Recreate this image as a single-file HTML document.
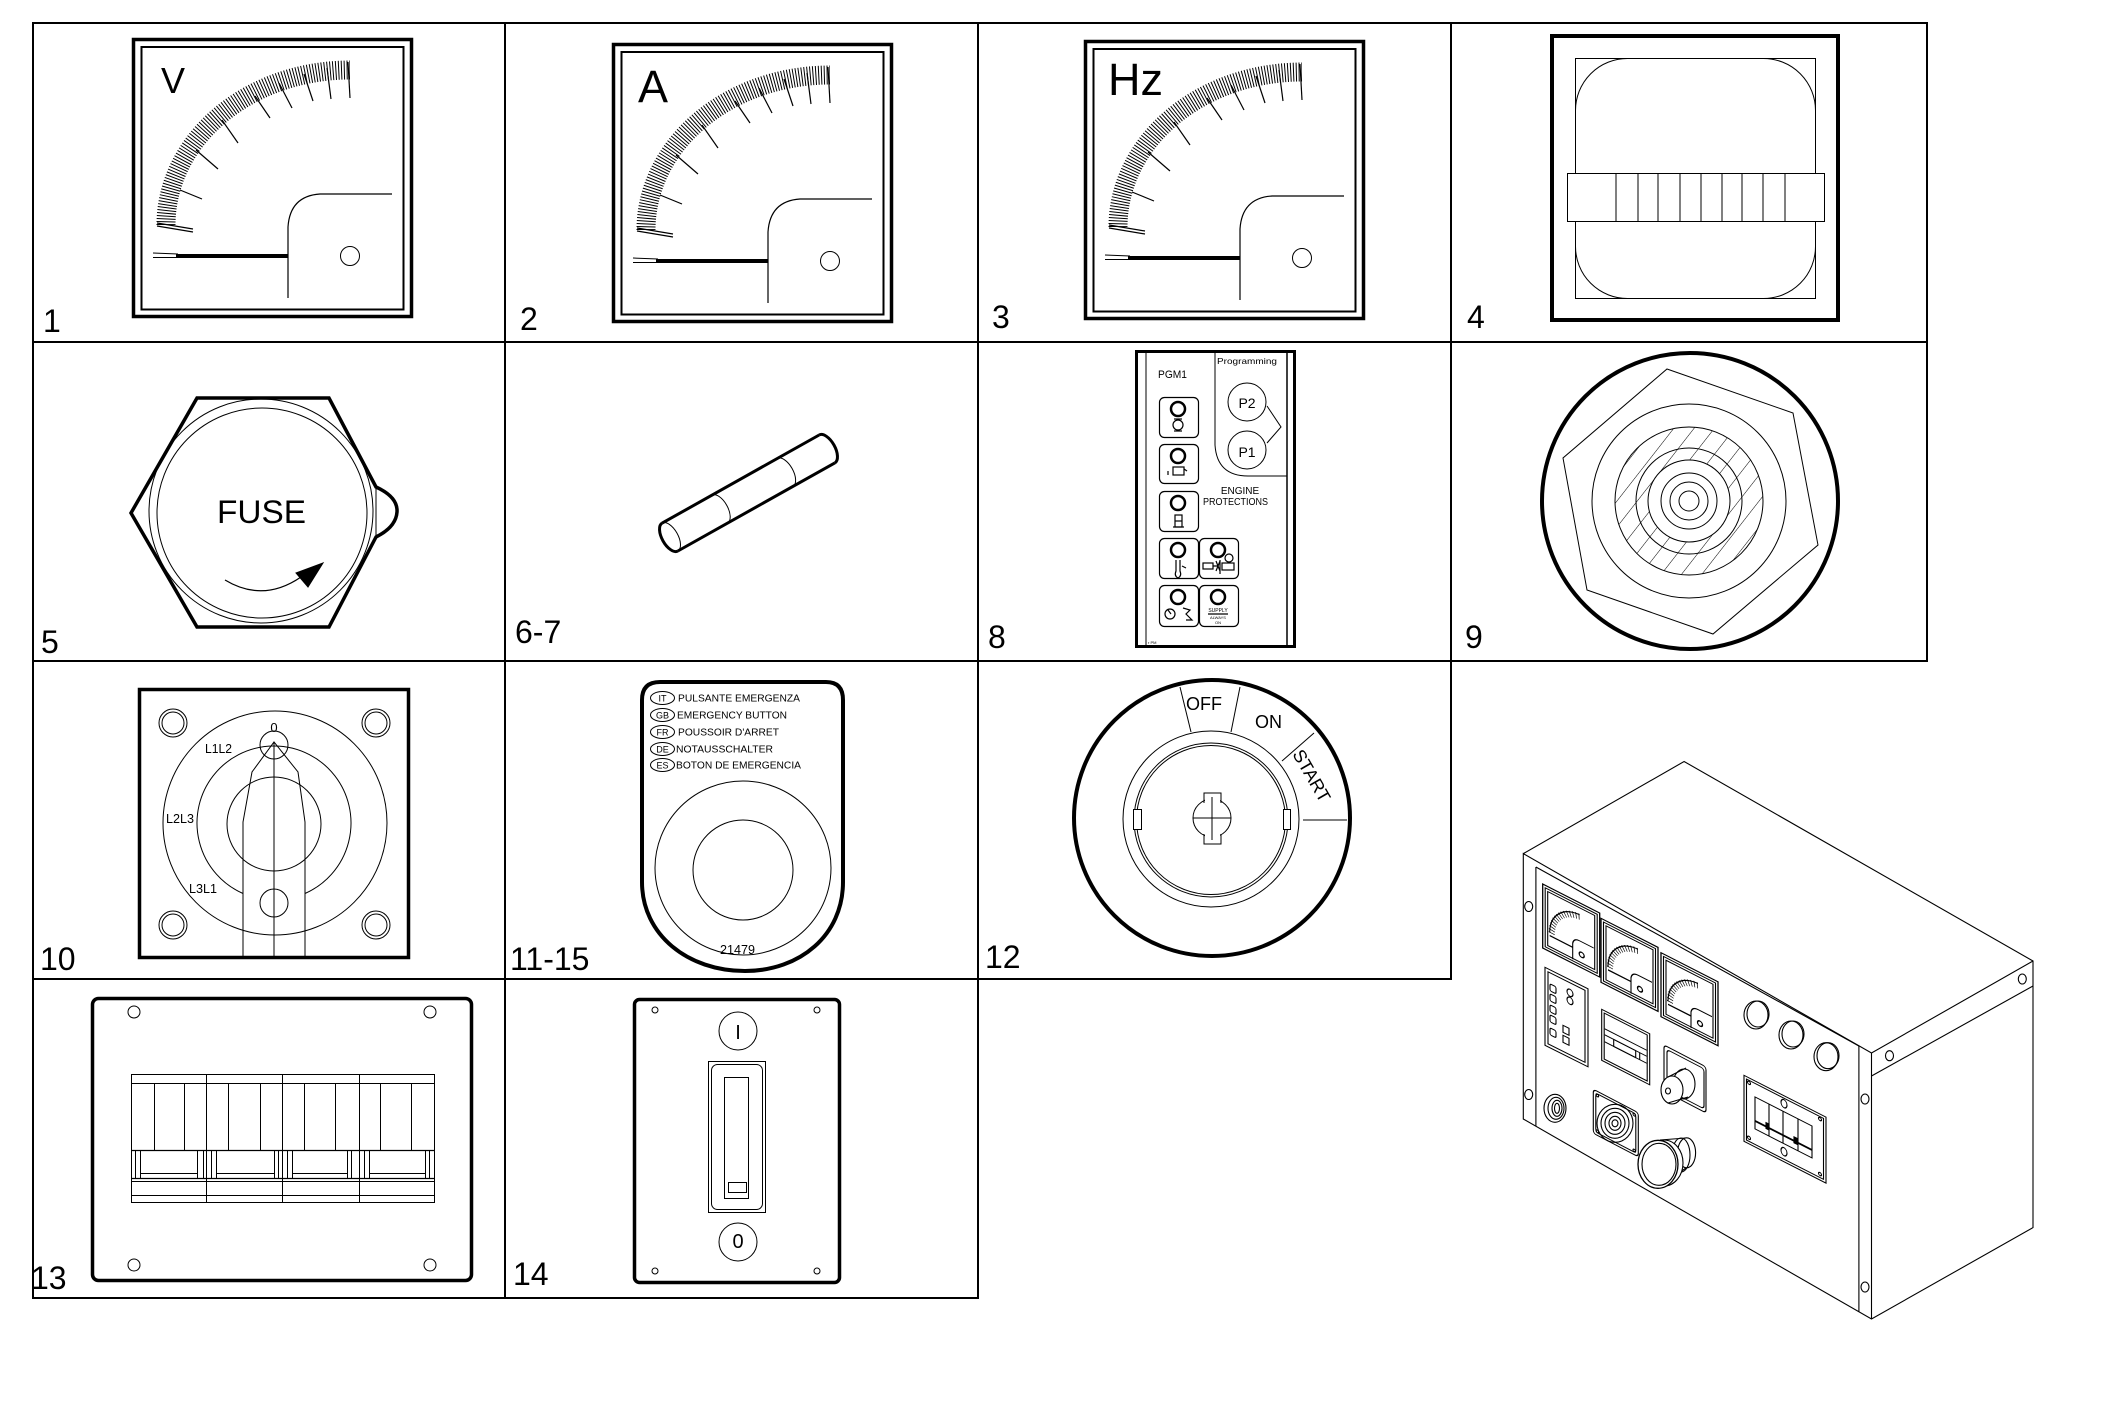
<!DOCTYPE html>
<html><head><meta charset="utf-8"><style>
html,body{margin:0;padding:0;background:#fff;}
svg{display:block;}
text{font-family:"Liberation Sans",Arial,sans-serif;fill:#000;stroke:none;}
</style></head><body>
<svg width="2126" height="1418" viewBox="0 0 2126 1418" xmlns="http://www.w3.org/2000/svg" fill="none" stroke="#000" stroke-width="1">
<defs>
 <g id="meter">
  <rect x="133.5" y="39.5" width="278" height="277" stroke-width="3.5"/>
  <rect x="141.5" y="47" width="262" height="262.5" stroke-width="2"/>
  <path d="M166,225 A184,155 0 0 1 350,70" stroke-width="19" stroke-dasharray="1 1.8"/>
  <g stroke-width="1.2">
   <line x1="157" y1="223" x2="193" y2="229"/>
   <line x1="157" y1="226" x2="193" y2="232"/>
   <line x1="180" y1="190" x2="202" y2="199"/>
   <line x1="196" y1="150" x2="218" y2="169"/>
   <line x1="222" y1="120" x2="238" y2="143"/>
   <line x1="255" y1="96" x2="270" y2="118"/>
   <line x1="279" y1="83" x2="292" y2="108"/>
   <line x1="304" y1="74" x2="313" y2="101"/>
   <line x1="327" y1="68" x2="331" y2="99"/>
   <line x1="348" y1="62" x2="350" y2="98"/>
  </g>
  <line x1="176" y1="256" x2="288" y2="256" stroke-width="4"/>
  <line x1="153" y1="253" x2="178" y2="254"/>
  <line x1="153" y1="257.5" x2="178" y2="257.5"/>
  <path d="M288,298 L288,227 Q290,196 320,194 L392,194" stroke-width="1.2"/>
  <circle cx="350" cy="256" r="9.5"/>
 </g>
 <g id="mm">
  <rect x="0" y="0" width="57" height="64" stroke-width="1.3"/>
  <rect x="2.5" y="2.5" width="52" height="59"/>
  <rect x="5" y="5" width="47" height="54"/>
  <path d="M9,45 A29,31 0 0 1 37,14" stroke-width="6" stroke-dasharray="0.8 2.2"/>
  <path d="M7,45 A31,33 0 0 1 37,12"/>
  <line x1="7" y1="48" x2="30" y2="48" stroke-width="1.4"/>
  <path d="M30,60 L30,44 Q31,38 37,38 L51,38"/>
  <circle cx="39" cy="51" r="2.5" stroke-width="1.3"/>
 </g>
 <pattern id="hatch" patternUnits="userSpaceOnUse" width="16" height="16" patternTransform="rotate(38 1689 501)">
  <line x1="0" y1="-1" x2="0" y2="17" stroke="#000" stroke-width="1"/>
 </pattern>
</defs>

<!-- GRID -->
<g stroke-width="2">
 <line x1="33" y1="23" x2="1928" y2="23"/>
 <line x1="33" y1="342" x2="1928" y2="342"/>
 <line x1="33" y1="661" x2="1928" y2="661"/>
 <line x1="33" y1="979" x2="1452" y2="979"/>
 <line x1="33" y1="1298" x2="979" y2="1298"/>
 <line x1="33" y1="22" x2="33" y2="1299"/>
 <line x1="505" y1="22" x2="505" y2="1299"/>
 <line x1="978" y1="22" x2="978" y2="1299"/>
 <line x1="1451" y1="22" x2="1451" y2="980"/>
 <line x1="1927" y1="22" x2="1927" y2="662"/>
</g>

<!-- LABELS -->
<g font-size="32">
 <text x="43" y="332">1</text>
 <text x="520" y="330">2</text>
 <text x="992" y="328">3</text>
 <text x="1467" y="328">4</text>
 <text x="41" y="653">5</text>
 <text x="515" y="643">6-7</text>
 <text x="988" y="648">8</text>
 <text x="1465" y="648">9</text>
 <text x="40" y="970">10</text>
 <text x="510" y="970">11-15</text>
 <text x="985" y="968">12</text>
 <text x="31" y="1289">13</text>
 <text x="513" y="1285">14</text>
</g>

<!-- METERS 1-3 -->
<use href="#meter"/>
<use href="#meter" transform="translate(480,5)"/>
<use href="#meter" transform="translate(952,2)"/>
<text x="161" y="93" font-size="36">V</text>
<text x="638" y="102" font-size="45">A</text>
<text x="1108" y="95" font-size="45" textLength="55" lengthAdjust="spacingAndGlyphs">Hz</text>

<!-- CELL 4 -->
<rect x="1552" y="36" width="286" height="284" stroke-width="4"/>
<rect x="1575.5" y="58.5" width="240" height="240"/>
<rect x="1575.5" y="58.5" width="240" height="240" rx="52"/>
<rect x="1567.5" y="173.5" width="257" height="48" fill="#fff"/>
<g>
 <line x1="1616" y1="173.5" x2="1616" y2="221.5"/>
 <line x1="1638" y1="173.5" x2="1638" y2="221.5"/>
 <line x1="1658" y1="173.5" x2="1658" y2="221.5"/>
 <line x1="1680" y1="173.5" x2="1680" y2="221.5"/>
 <line x1="1701" y1="173.5" x2="1701" y2="221.5"/>
 <line x1="1722" y1="173.5" x2="1722" y2="221.5"/>
 <line x1="1742" y1="173.5" x2="1742" y2="221.5"/>
 <line x1="1763" y1="173.5" x2="1763" y2="221.5"/>
 <line x1="1785" y1="173.5" x2="1785" y2="221.5"/>
</g>

<!-- CELL 5 FUSE -->
<path d="M197,398 L329,398 L376,487 Q398,497 397,512 Q396,527 376,537 L329,627 L197,627 L131,513 Z" stroke-width="3.5"/>
<line x1="376" y1="487" x2="376" y2="537"/>
<circle cx="261" cy="511" r="112"/>
<circle cx="262" cy="513" r="105"/>
<text x="217" y="523" font-size="32" textLength="89" lengthAdjust="spacingAndGlyphs">FUSE</text>
<path d="M225,580 Q263,603 301,577" stroke-width="1.2"/>
<polygon points="323,563 296,573 308,587" fill="#000"/>

<!-- CELL 6-7 -->
<g transform="translate(748.5,493) rotate(-29.3)">
 <line x1="-90" y1="-16" x2="90" y2="-16" stroke-width="3"/>
 <line x1="-90" y1="16" x2="90" y2="16" stroke-width="3"/>
 <path d="M-90,-16 A8,16 0 0 0 -90,16" stroke-width="3"/>
 <path d="M-90,-16 A8,16 0 0 1 -90,16"/>
 <path d="M90,-16 A8,16 0 0 1 90,16" stroke-width="3"/>
 <path d="M-33,-16 A8,16 0 0 1 -33,16"/>
 <path d="M42,-16 A8,16 0 0 1 42,16"/>
</g>

<!-- CELL 8 -->
<rect x="1136.5" y="351.5" width="158" height="295" stroke-width="3"/>
<line x1="1146" y1="351" x2="1146" y2="647"/>
<line x1="1287" y1="351" x2="1287" y2="647" stroke-width="1.5"/>
<path d="M1215,351 L1215,445 Q1217,476 1248,476 L1287,476"/>
<text x="1217" y="364" font-size="8.5" textLength="60" lengthAdjust="spacingAndGlyphs">Programming</text>
<text x="1158" y="378" font-size="11" textLength="29" lengthAdjust="spacingAndGlyphs">PGM1</text>
<circle cx="1247" cy="402" r="19"/>
<text x="1247" y="408" font-size="14" text-anchor="middle">P2</text>
<circle cx="1247" cy="450" r="19"/>
<text x="1247" y="457" font-size="14" text-anchor="middle">P1</text>
<polyline points="1267,406 1281,427 1267,443"/>
<text x="1240" y="494" font-size="10" text-anchor="middle">ENGINE</text>
<text x="1203" y="505" font-size="10" textLength="65" lengthAdjust="spacingAndGlyphs">PROTECTIONS</text>
<g stroke-width="1.2">
 <rect x="1159.5" y="397.5" width="39" height="40" rx="5"/>
 <rect x="1159.5" y="444.5" width="39" height="39" rx="5"/>
 <rect x="1159.5" y="491.5" width="39" height="40" rx="5"/>
 <rect x="1159.5" y="538.5" width="39" height="40" rx="5"/>
 <rect x="1199.5" y="538.5" width="39" height="40" rx="5"/>
 <rect x="1159.5" y="585.5" width="39" height="41" rx="5"/>
 <rect x="1199.5" y="585.5" width="39" height="41" rx="5"/>
</g>
<g stroke-width="2.5">
 <circle cx="1178" cy="409" r="7"/>
 <circle cx="1178" cy="456" r="7"/>
 <circle cx="1178" cy="503" r="7"/>
 <circle cx="1178" cy="550" r="7"/>
 <circle cx="1218" cy="550" r="7"/>
 <circle cx="1178" cy="597" r="7"/>
 <circle cx="1218" cy="597" r="7"/>
</g>
<g stroke-width="1.2">
 <circle cx="1178" cy="425" r="5"/><line x1="1174" y1="431" x2="1182" y2="431"/><line x1="1174" y1="419" x2="1182" y2="419"/>
 <rect x="1173" y="467" width="11" height="8"/><line x1="1168" y1="471" x2="1168" y2="475"/><line x1="1184" y1="469" x2="1187" y2="471"/>
 <rect x="1175" y="515" width="7" height="12"/><line x1="1175" y1="521" x2="1182" y2="521"/><line x1="1173" y1="527" x2="1184" y2="527"/>
 <path d="M1176,560 L1176,571 Q1174,576 1178,578 Q1182,576 1180,571 L1180,560 M1182,566 L1186,568"/>
 <rect x="1203" y="563" width="10" height="6"/><path d="M1213,566 L1218,566 M1216,561 L1220,571 M1220,561 L1216,571 M1220,560 L1220,574"/>
 <circle cx="1229" cy="558" r="4"/><rect x="1222" y="563" width="12" height="7"/>
 <circle cx="1170" cy="614" r="5"/><path d="M1168,610 L1171,614 M1183,608 L1190,610 L1186,614 L1192,620 L1186,620"/>
</g>
<text x="1218" y="612" font-size="5" text-anchor="middle">SUPPLY</text>
<line x1="1208" y1="614" x2="1228" y2="614" stroke-width="1.2"/>
<text x="1218" y="619" font-size="4" text-anchor="middle">ALWAYS</text>
<text x="1218" y="624" font-size="4" text-anchor="middle">ON</text>
<text x="1148" y="644" font-size="4">r  PM</text>

<!-- CELL 9 -->
<circle cx="1690" cy="501" r="148" stroke-width="4"/>
<polygon points="1667,369 1793,413 1818,545 1713,634 1587,590 1563,458"/>
<path d="M1615,501 a74,74 0 1 0 148,0 a74,74 0 1 0 -148,0 Z M1648,501 a41,41 0 1 0 82,0 a41,41 0 1 0 -82,0 Z" fill="url(#hatch)" fill-rule="evenodd" stroke="none"/>
<circle cx="1689" cy="501" r="97"/>
<circle cx="1689" cy="501" r="74"/>
<circle cx="1689" cy="501" r="53"/>
<circle cx="1689" cy="501" r="41"/>
<circle cx="1689" cy="501" r="28"/>
<circle cx="1689" cy="501" r="19"/>
<circle cx="1689" cy="501" r="10"/>

<!-- CELL 10 -->
<rect x="139.5" y="689.5" width="269" height="268" stroke-width="3.5"/>
<g>
 <circle cx="173" cy="723" r="14"/><circle cx="173" cy="723" r="11"/>
 <circle cx="376" cy="723" r="14"/><circle cx="376" cy="723" r="11"/>
 <circle cx="173" cy="925" r="14"/><circle cx="173" cy="925" r="11"/>
 <circle cx="376" cy="925" r="14"/><circle cx="376" cy="925" r="11"/>
</g>
<circle cx="275" cy="823" r="112"/>
<path d="M243,893.5 A77,77 0 1 1 305,893.5"/>
<circle cx="274" cy="824" r="47"/>
<circle cx="274" cy="745" r="14"/>
<circle cx="274" cy="903" r="14"/>
<polyline points="243,959 243,822 252,772 274,742 298,772 305,822 305,959"/>
<line x1="274" y1="742" x2="274" y2="959"/>
<text x="274" y="732" font-size="13" text-anchor="middle">0</text>
<text x="205" y="753" font-size="13" textLength="27" lengthAdjust="spacingAndGlyphs">L1L2</text>
<text x="166" y="823" font-size="13" textLength="28" lengthAdjust="spacingAndGlyphs">L2L3</text>
<text x="189" y="893" font-size="13" textLength="28" lengthAdjust="spacingAndGlyphs">L3L1</text>

<!-- CELL 11-15 -->
<path d="M642,700 Q642,682 660,682 L826,682 Q843,682 843,700 L843,882 C843,935 800,971 745,971 C688,971 642,935 642,882 Z" stroke-width="4"/>
<g>
 <ellipse cx="662.5" cy="698" rx="12" ry="6.5"/>
 <ellipse cx="662.5" cy="715" rx="12" ry="6.5"/>
 <ellipse cx="662.5" cy="732" rx="12" ry="6.5"/>
 <ellipse cx="662.5" cy="749" rx="12" ry="6.5"/>
 <ellipse cx="662.5" cy="765" rx="12" ry="6.5"/>
</g>
<g font-size="9" text-anchor="middle">
 <text x="662.5" y="701.5">IT</text>
 <text x="662.5" y="718.5">GB</text>
 <text x="662.5" y="735.5">FR</text>
 <text x="662.5" y="752.5">DE</text>
 <text x="662.5" y="768.5">ES</text>
</g>
<g font-size="10">
 <text x="678" y="701.5" textLength="122" lengthAdjust="spacingAndGlyphs">PULSANTE EMERGENZA</text>
 <text x="677" y="718.5" textLength="110" lengthAdjust="spacingAndGlyphs">EMERGENCY BUTTON</text>
 <text x="678" y="735.5" textLength="101" lengthAdjust="spacingAndGlyphs">POUSSOIR D'ARRET</text>
 <text x="676" y="752.5" textLength="97" lengthAdjust="spacingAndGlyphs">NOTAUSSCHALTER</text>
 <text x="676" y="768.5" textLength="125" lengthAdjust="spacingAndGlyphs">BOTON DE EMERGENCIA</text>
</g>
<ellipse cx="743" cy="868" rx="88" ry="87"/>
<circle cx="743" cy="870" r="50"/>
<text x="720" y="954" font-size="12.5" textLength="35" lengthAdjust="spacingAndGlyphs">21479</text>

<!-- CELL 12 -->
<circle cx="1212" cy="818" r="138" stroke-width="4"/>
<circle cx="1211" cy="819" r="88"/>
<circle cx="1211" cy="820" r="77"/>
<circle cx="1211" cy="820" r="74.5"/>
<rect x="1133.5" y="809.5" width="8" height="20" fill="#fff"/>
<rect x="1283.5" y="809.5" width="7" height="20" fill="#fff"/>
<circle cx="1212" cy="818" r="19"/>
<rect x="1205" y="792" width="15" height="12" fill="#fff" stroke="none"/>
<rect x="1205" y="833" width="15" height="12" fill="#fff" stroke="none"/>
<path d="M1204,803 L1204,793 L1221,793 L1221,803"/>
<path d="M1204,834 L1204,844 L1221,844 L1221,834"/>
<line x1="1193" y1="818" x2="1231" y2="818"/>
<line x1="1212" y1="797" x2="1212" y2="840"/>
<line x1="1180" y1="687" x2="1191" y2="732"/>
<line x1="1240" y1="687" x2="1231" y2="732"/>
<line x1="1314" y1="733" x2="1282" y2="761"/>
<line x1="1303" y1="820" x2="1347" y2="820"/>
<text x="1186" y="710" font-size="18">OFF</text>
<text x="1255" y="728" font-size="18">ON</text>
<text transform="translate(1292,754) rotate(60)" font-size="18">START</text>

<!-- CELL 13 -->
<rect x="92.5" y="998.5" width="379" height="282" rx="6" stroke-width="3.5"/>
<circle cx="134" cy="1012" r="6"/><circle cx="430" cy="1012" r="6"/>
<circle cx="134" cy="1265" r="6"/><circle cx="430" cy="1265" r="6"/>
<rect x="131.5" y="1074.5" width="303" height="128"/>
<g>
 <line x1="131" y1="1083.5" x2="435" y2="1083.5"/>
 <line x1="131" y1="1150.5" x2="435" y2="1150.5" stroke-width="1.3"/>
 <line x1="131" y1="1178.5" x2="435" y2="1178.5" stroke-width="1.3"/>
 <line x1="131" y1="1181.5" x2="435" y2="1181.5"/>
 <line x1="131" y1="1195.5" x2="435" y2="1195.5"/>
 <line x1="206.5" y1="1074" x2="206.5" y2="1203"/>
 <line x1="282.5" y1="1074" x2="282.5" y2="1203"/>
 <line x1="359.5" y1="1074" x2="359.5" y2="1203"/>
 <line x1="154.5" y1="1083" x2="154.5" y2="1150"/>
 <line x1="184.5" y1="1083" x2="184.5" y2="1150"/>
 <line x1="228.5" y1="1083" x2="228.5" y2="1150"/>
 <line x1="260.5" y1="1083" x2="260.5" y2="1150"/>
 <line x1="304.5" y1="1083" x2="304.5" y2="1150"/>
 <line x1="335.5" y1="1083" x2="335.5" y2="1150"/>
 <line x1="380.5" y1="1083" x2="380.5" y2="1150"/>
 <line x1="411.5" y1="1083" x2="411.5" y2="1150"/>
 <line x1="135.5" y1="1150" x2="135.5" y2="1178"/><line x1="140.5" y1="1150" x2="140.5" y2="1178"/>
 <line x1="197.5" y1="1150" x2="197.5" y2="1178"/><line x1="203.5" y1="1150" x2="203.5" y2="1178"/>
 <line x1="211.5" y1="1150" x2="211.5" y2="1178"/><line x1="216.5" y1="1150" x2="216.5" y2="1178"/>
 <line x1="274.5" y1="1150" x2="274.5" y2="1178"/><line x1="278.5" y1="1150" x2="278.5" y2="1178"/>
 <line x1="287.5" y1="1150" x2="287.5" y2="1178"/><line x1="292.5" y1="1150" x2="292.5" y2="1178"/>
 <line x1="347.5" y1="1150" x2="347.5" y2="1178"/><line x1="351.5" y1="1150" x2="351.5" y2="1178"/>
 <line x1="364.5" y1="1150" x2="364.5" y2="1178"/><line x1="369.5" y1="1150" x2="369.5" y2="1178"/>
 <line x1="425.5" y1="1150" x2="425.5" y2="1178"/><line x1="429.5" y1="1150" x2="429.5" y2="1178"/>
 <line x1="140" y1="1173.5" x2="197" y2="1173.5"/>
 <line x1="216" y1="1173.5" x2="274" y2="1173.5"/>
 <line x1="292" y1="1173.5" x2="347" y2="1173.5"/>
 <line x1="369" y1="1173.5" x2="425" y2="1173.5"/>
</g>

<!-- CELL 14 -->
<rect x="634.5" y="999.5" width="205" height="283" rx="5" stroke-width="3.5"/>
<circle cx="655" cy="1010" r="3"/><circle cx="817" cy="1010" r="3"/>
<circle cx="655" cy="1271" r="3"/><circle cx="817" cy="1271" r="3"/>
<circle cx="738" cy="1031" r="19"/>
<text x="738" y="1039" font-size="20" text-anchor="middle">I</text>
<circle cx="738" cy="1242" r="19"/>
<text x="738" y="1248" font-size="20" text-anchor="middle">0</text>
<rect x="708.5" y="1061.5" width="57" height="151"/>
<rect x="711.5" y="1064.5" width="51" height="145" rx="6"/>
<rect x="724.5" y="1077.5" width="24" height="121"/>
<rect x="728.5" y="1182.5" width="18" height="10"/>

<!-- ISOMETRIC CONTROL BOX -->
<g stroke-width="1.1">
 <polyline points="1523.3,853.6 1684.1,761.5 2033,961 2033,1227.6 1871.5,1319 1523.3,1119 1523.3,853.6 1871.5,1053 2033,961"/>
 <line x1="1871.5" y1="1053" x2="1871.5" y2="1319"/>
 <line x1="1535.9" y1="867" x2="1535.9" y2="1126"/>
 <line x1="1535.9" y1="867" x2="1858.9" y2="1046"/>
 <line x1="1858.9" y1="1046" x2="1858.9" y2="1312"/>
 <line x1="1871.5" y1="1076" x2="2033" y2="986"/>
 <ellipse cx="1528.7" cy="906.5" rx="4" ry="5"/>
 <ellipse cx="1528.7" cy="1094.5" rx="4" ry="5"/>
 <ellipse cx="1865" cy="1099" rx="4" ry="5"/>
 <ellipse cx="1865" cy="1287" rx="4" ry="5"/>
 <ellipse cx="1889.5" cy="1055.7" rx="4" ry="5"/>
 <ellipse cx="2022.3" cy="979" rx="4" ry="5"/>

 <use href="#mm" transform="matrix(1,0.51,0,1,1542.7,884)"/>
 <use href="#mm" transform="matrix(1,0.51,0,1,1601,918.3)"/>
 <use href="#mm" transform="matrix(1,0.51,0,1,1661,952.7)"/>

 <g transform="matrix(1,0.5,0,1,1545,967.3)">
  <rect x="0" y="0" width="43" height="78"/>
  <rect x="3" y="3" width="37" height="72"/>
  <rect x="5" y="14" width="6" height="7" rx="1.5"/>
  <rect x="5" y="24" width="6" height="7" rx="1.5"/>
  <rect x="5" y="35" width="6" height="7" rx="1.5"/>
  <rect x="5" y="45" width="6" height="7" rx="1.5"/>
  <rect x="5" y="58" width="6" height="7" rx="1.5"/>
  <ellipse cx="25" cy="13" rx="3" ry="3.5"/>
  <ellipse cx="25" cy="21" rx="3" ry="3.5"/>
  <rect x="18" y="49" width="6" height="7"/>
  <rect x="18" y="59" width="6" height="7"/>
 </g>
 <g transform="matrix(1,0.51,0,1,1601.7,1009.3)">
  <rect x="0" y="0" width="48" height="51"/>
  <rect x="2.5" y="2.5" width="43" height="46"/>
  <line x1="3" y1="18" x2="45" y2="18"/>
  <line x1="3" y1="24" x2="45" y2="24"/>
  <line x1="3" y1="31" x2="45" y2="31"/>
  <rect x="12" y="24" width="22" height="7"/>
  <line x1="38" y1="24" x2="38" y2="31"/>
 </g>
 <g transform="matrix(1,0.52,0,1,1664,1045)">
  <rect x="0" y="0" width="42" height="46" rx="3"/>
  <rect x="3" y="3" width="37" height="40" rx="3"/>
 </g>
 <ellipse cx="1684" cy="1084" rx="11" ry="15"/>
 <ellipse cx="1672" cy="1090" rx="11" ry="14" fill="#fff"/>
 <path d="M1668,1077 L1686,1068 M1668,1103 L1688,1097"/>
 <ellipse cx="1668" cy="1091" rx="2.5" ry="3"/>

 <ellipse cx="1756" cy="1015" rx="12" ry="14"/><ellipse cx="1758" cy="1014" rx="11" ry="13"/>
 <ellipse cx="1791" cy="1035" rx="12" ry="14"/><ellipse cx="1793" cy="1034" rx="11" ry="13"/>
 <ellipse cx="1826" cy="1056.7" rx="12" ry="14"/><ellipse cx="1828" cy="1055.7" rx="11" ry="13"/>

 <g transform="matrix(1,0.51,0,1,1744,1075.3)">
  <rect x="0" y="0" width="82" height="66"/>
  <rect x="2.5" y="2.5" width="77" height="61"/>
  <rect x="11" y="16" width="57" height="32"/>
  <line x1="25" y1="16" x2="25" y2="48"/>
  <line x1="39" y1="16" x2="39" y2="48"/>
  <line x1="54" y1="16" x2="54" y2="48"/>
  <line x1="11" y1="40" x2="68" y2="40" stroke-width="2"/>
  <rect x="22" y="36" width="3" height="6" fill="#000"/>
  <rect x="50" y="36" width="3" height="6" fill="#000"/>
  <circle cx="5" cy="5" r="1.5"/><circle cx="76" cy="5" r="1.5"/>
  <circle cx="5" cy="60" r="1.5"/><circle cx="76" cy="60" r="1.5"/>
  <ellipse cx="40" cy="8" rx="3" ry="4"/>
  <ellipse cx="40" cy="56" rx="3" ry="4"/>
 </g>

 <ellipse cx="1555" cy="1108.3" rx="11" ry="14"/>
 <ellipse cx="1556" cy="1108.3" rx="8" ry="11"/>
 <ellipse cx="1557" cy="1108.3" rx="5" ry="8"/>
 <ellipse cx="1557" cy="1108.3" rx="2.5" ry="5"/>

 <g transform="matrix(1,0.52,0,1,1593.3,1089.3)">
  <rect x="0" y="0" width="45" height="44" rx="3"/>
  <rect x="2.5" y="2.5" width="40" height="39" rx="3"/>
  <circle cx="4" cy="4" r="1.3"/><circle cx="41" cy="4" r="1.3"/>
  <circle cx="4" cy="40" r="1.3"/><circle cx="41" cy="40" r="1.3"/>
 </g>
 <ellipse cx="1615" cy="1123.3" rx="18" ry="19"/>
 <ellipse cx="1615" cy="1123.3" rx="14" ry="15"/>
 <ellipse cx="1615" cy="1123.3" rx="10" ry="11"/>
 <ellipse cx="1615" cy="1123.3" rx="6" ry="7"/>
 <ellipse cx="1615" cy="1123.3" rx="3" ry="3.5"/>

 <ellipse cx="1686.6" cy="1152.8" rx="9" ry="15"/>
 <ellipse cx="1681" cy="1155" rx="9" ry="17"/>
 <path d="M1660,1140 L1686,1138 M1660,1186 L1686,1168"/>
 <ellipse cx="1664" cy="1163" rx="19" ry="23" fill="#fff"/>
 <ellipse cx="1658" cy="1164.3" rx="20" ry="24" fill="#fff" stroke-width="1.3"/>
 <ellipse cx="1659" cy="1164.3" rx="17" ry="21"/>
</g>
</svg>
</body></html>
